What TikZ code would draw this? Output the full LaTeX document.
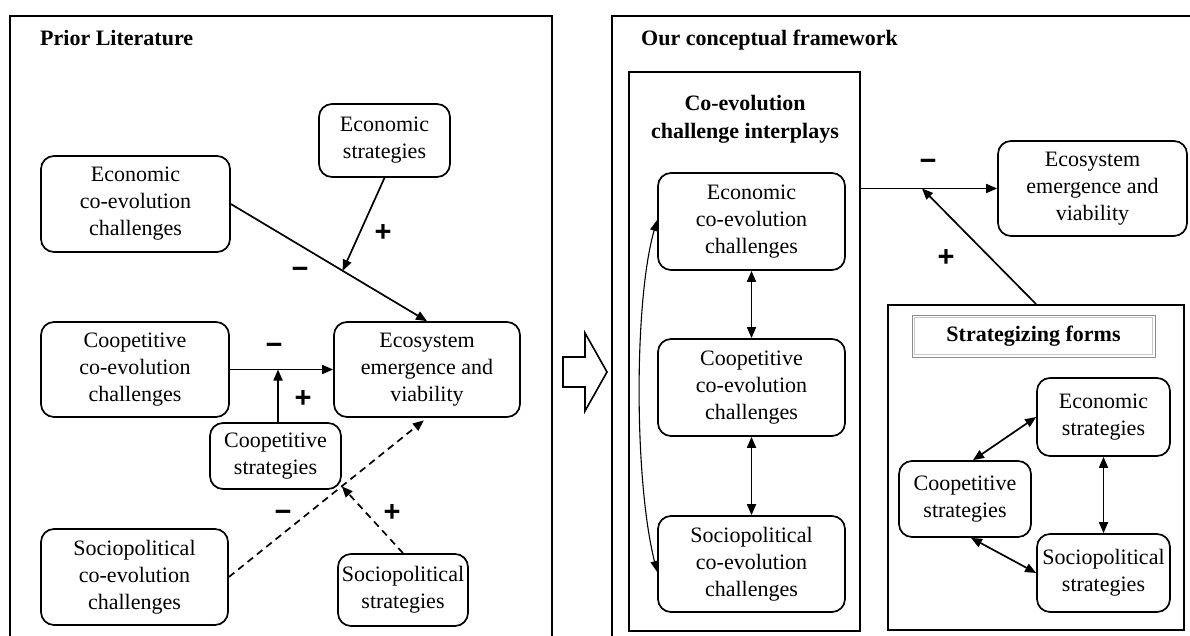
\documentclass[tikz,border=0pt]{standalone}
\usepackage{fontspec}
\setmainfont{Liberation Serif}
\newfontfamily\signfont{Liberation Sans}
\usetikzlibrary{arrows.meta,calc}

\begin{document}
\begin{tikzpicture}[x=1pt,y=-1pt,
  box/.style={draw, line width=1.7pt, rounded corners=13pt, align=center, inner sep=0pt,
              font=\fontsize{22}{27}\selectfont},
  panel/.style={draw, line width=1.9pt, inner sep=0pt},
  conn/.style={line width=1.7pt, -{Triangle[length=11pt,width=9pt]}},
  dconn/.style={conn, dash pattern=on 7pt off 5pt},
  biconn/.style={line width=1.7pt, {Triangle[length=11pt,width=9pt]}-{Triangle[length=11pt,width=9pt]}},
  sign/.style={font=\signfont\bfseries\fontsize{29}{29}\selectfont, inner sep=0pt},
  heading/.style={font=\bfseries\fontsize{22}{28}\selectfont, inner sep=0pt, align=center},
]
\useasboundingbox (0,0) rectangle (1190,636);

% ---------- left panel: prior literature ----------
\draw[line width=1.9pt] (10,660) -- (10,16) -- (552,16) -- (552,660);
\node[heading, anchor=base west] (tl) at (40,46) {Prior Literature};

\node[box, minimum width=131pt, minimum height=73pt] (esl) at (384.5,140.5) {Economic\\strategies};
\node[box, minimum width=189pt, minimum height=96pt] (ecc) at (135.5,204) {Economic\\co-evolution\\challenges};
\node[box, minimum width=188pt, minimum height=95pt] (ccc) at (135,369.5) {Coopetitive\\co-evolution\\challenges};
\node[box, minimum width=186pt, minimum height=95pt] (eco) at (427,369.5) {Ecosystem\\emergence and\\viability};
\node[box, minimum width=131pt, minimum height=66pt] (csl) at (275.5,456) {Coopetitive\\strategies};
\node[box, minimum width=187pt, minimum height=96pt] (scc) at (134.5,577) {Sociopolitical\\co-evolution\\challenges};
\node[box, minimum width=130pt, minimum height=72pt] (ssl) at (403,590) {Sociopolitical\\strategies};

% economic path and its moderator
\draw[conn] (ecc.east) -- (eco.north);
\coordinate (m1) at ($(ecc.east)!0.57!(eco.north)$);
\draw[conn] (esl.south) -- (m1);
\node[sign] (p1) at (383,233) {+};
\node[sign] (n1) at (300,273) {−};

% coopetitive path and its moderator
\draw[conn] (ccc.east) -- (eco.west);
\coordinate (m2) at (278,369.5);
\draw[conn] (csl.north -| m2) -- (m2);
\node[sign] (n2) at (274,349) {−};
\node[sign] (p2) at (303,399) {+};

% sociopolitical path and its moderator (dashed)
\draw[dconn, shorten >=4pt] (scc.east) -- (eco.south);
\coordinate (m3) at ($(scc.east)!0.57!(eco.south)$);
\draw[dconn] (ssl.north) -- (m3);
\node[sign] (n3) at (283,516) {−};
\node[sign] (p3) at (392,513) {+};

% ---------- transition arrow ----------
\draw[line width=1.6pt, line join=miter] (563,357) -- (585,357) -- (585,333) -- (607,372)
  -- (585,411) -- (585,387) -- (563,387) -- cycle;

% ---------- right panel: conceptual framework ----------
\draw[line width=1.9pt] (612,660) -- (612,16) -- (1200,16);
\node[heading, anchor=base west] (tr) at (641,46) {Our conceptual framework};

\node[panel, minimum width=231pt, minimum height=559pt] (cpanel) at (744.5,351.5) {};
\node[heading] (ct) at (745,119) {Co-evolution\\challenge interplays};

\node[box, minimum width=187pt, minimum height=97pt] (ecc2) at (751.5,221.5) {Economic\\co-evolution\\challenges};
\node[box, minimum width=187pt, minimum height=97pt] (cc2) at (751.5,387.5) {Coopetitive\\co-evolution\\challenges};
\node[box, minimum width=187pt, minimum height=96pt] (sc2) at (751.5,564) {Sociopolitical\\co-evolution\\challenges};

\draw[biconn] (ecc2.south) -- (cc2.north);
\draw[biconn] (cc2.south) -- (sc2.north);
\draw[line width=1.1pt, {Triangle[length=11pt,width=8pt]}-{Triangle[length=11pt,width=8pt]}]
  ([yshift=1.5pt]ecc2.west) .. controls (634,300) and (634,480) .. ([yshift=-8pt]sc2.west);

\node[box, minimum width=189pt, minimum height=95pt] (eco2) at (1092.5,188.5) {Ecosystem\\emergence and\\viability};

\node[panel, minimum width=296pt, minimum height=325pt] (sbox) at (1036,467.5) {};
\node[draw=black!45, line width=0.9pt, minimum width=243pt, minimum height=42pt, inner sep=0pt,
      font=\bfseries\fontsize{22}{26}\selectfont] (sft) at (1033.5,336) {Strategizing forms};
\draw[black!22, line width=0.9pt] ([shift={(3,3)}]sft.north west) rectangle ([shift={(-3,-3)}]sft.south east);

\node[box, minimum width=133pt, minimum height=78pt] (es2) at (1103.5,417) {Economic\\strategies};
\node[box, minimum width=132pt, minimum height=76pt] (cs2) at (965,499) {Coopetitive\\strategies};
\node[box, minimum width=133pt, minimum height=78pt] (ss2) at (1103.5,573) {Sociopolitical\\strategies};

\draw[biconn] ([xshift=8pt]cs2.north) -- (es2.west);
\draw[biconn] (es2.south) -- (ss2.north);
\draw[biconn] ([xshift=6pt]cs2.south) -- (ss2.west);

% main effect and moderation
\draw[conn] (eco2.west -| cpanel.east) -- (eco2.west);
\coordinate (m4) at (922,188.5);
\draw[conn] (sbox.north) -- (m4);
\node[sign] (n4) at (928,165) {−};
\node[sign] (p4) at (946,258) {+};
\end{tikzpicture}
\end{document}
